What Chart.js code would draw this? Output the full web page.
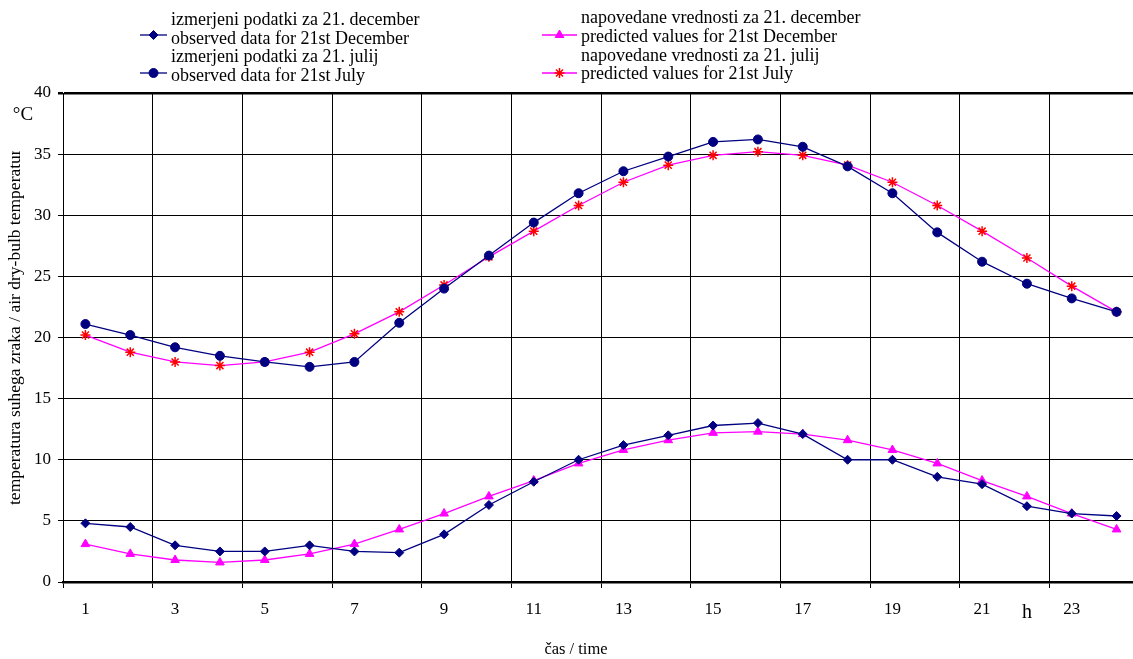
<!DOCTYPE html>
<html><head><meta charset="utf-8">
<script src="https://cdn.jsdelivr.net/npm/chart.js@4.4.1/dist/chart.umd.min.js"></script>
<style>html,body{margin:0;padding:0;overflow:hidden;background:#fff;width:1133px;height:659px}canvas{display:block}</style>
</head><body><canvas id="c" width="1160" height="659"></canvas>
<script>
const hours = [1,2,3,4,5,6,7,8,9,10,11,12,13,14,15,16,17,18,19,20,21,22,23,24];
const decObserved = [4.8,4.5,3.0,2.5,2.5,3.0,2.5,2.4,3.9,6.3,8.2,10.0,11.2,12.0,12.8,13.0,12.1,10.0,10.0,8.6,8.0,6.2,5.6,5.4];
const julObserved = [21.1,20.2,19.2,18.5,18.0,17.6,18.0,21.2,24.0,26.7,29.4,31.8,33.6,34.8,36.0,36.2,35.6,34.0,31.8,28.6,26.2,24.4,23.2,22.1];
const decPredicted = [3.1,2.3,1.8,1.6,1.8,2.3,3.1,4.3,5.6,7.0,8.3,9.7,10.8,11.6,12.2,12.3,12.1,11.6,10.8,9.7,8.3,7.0,5.6,4.3];
const julPredicted = [20.2,18.8,18.0,17.7,18.0,18.8,20.3,22.1,24.3,26.6,28.7,30.8,32.7,34.1,34.9,35.2,34.9,34.1,32.7,30.8,28.7,26.5,24.2,22.1];
const xTickLabels = [1,3,5,7,9,11,13,15,17,19,21,23];
const xGridPositions = [0.5,2.5,4.5,6.5,8.5,10.5,12.5,14.5,16.5,18.5,20.5,22.5,24.5];
const legendTexts = [
  ["izmerjeni podatki za 21. december","observed data for 21st December"],
  ["izmerjeni podatki za 21. julij","observed data for 21st July"],
  ["napovedane vrednosti za 21. december","predicted values for 21st December"],
  ["napovedane vrednosti za 21. julij","predicted values for 21st July"]
];
const yTitle = "temperatura suhega zraka / air dry-bulb temperature";
const xTitle = "čas / time";

const SERIF = '"Liberation Serif", "Times New Roman", serif';
const NAVY = '#000080', MAG = '#FF00FF', RED = '#FF0000';
const pts = arr => hours.map((h,i)=>({x:h,y:arr[i]}));

const datasets = [
  {label:legendTexts[0].join(' '), data:pts(decObserved), borderColor:NAVY, backgroundColor:NAVY, pointStyle:'rectRot', pointRadius:4.5, pointBorderWidth:1, borderWidth:1.3},
  {label:legendTexts[1].join(' '), data:pts(julObserved), borderColor:NAVY, backgroundColor:NAVY, pointStyle:'circle', pointRadius:4.5, pointBorderWidth:1, borderWidth:1.3},
  {label:legendTexts[2].join(' '), data:pts(decPredicted), borderColor:MAG, backgroundColor:MAG, pointStyle:'triangle', pointRadius:5, pointBorderWidth:1, borderWidth:1.3},
  {label:legendTexts[3].join(' '), data:pts(julPredicted), borderColor:MAG, backgroundColor:RED, pointBorderColor:RED, pointBackgroundColor:RED, pointStyle:'star', pointRadius:5, pointBorderWidth:1.5, borderWidth:1.3}
];

const legendLayout = [
  {lineX1:140, lineX2:167, textX:171, markY:35, textY:[20,39]},
  {lineX1:140, lineX2:167, textX:171, markY:73, textY:[57,76]},
  {lineX1:542, lineX2:577, textX:581, markY:35, textY:[18,37]},
  {lineX1:542, lineX2:577, textX:581, markY:73, textY:[56,74]}
];

const extras = {
  id:'extras',
  afterDraw(chart){
    const ctx = chart.ctx;
    ctx.save();
    chart.data.datasets.forEach((ds,i)=>{
      const L = legendLayout[i];
      ctx.strokeStyle = ds.borderColor; ctx.lineWidth = 1.3;
      ctx.beginPath(); ctx.moveTo(L.lineX1, L.markY); ctx.lineTo(L.lineX2, L.markY); ctx.stroke();
      ctx.fillStyle = ds.pointBackgroundColor || ds.backgroundColor;
      ctx.strokeStyle = ds.pointBorderColor || ds.borderColor;
      ctx.lineWidth = ds.pointBorderWidth;
      Chart.helpers.drawPoint(ctx, {pointStyle:ds.pointStyle, radius:ds.pointRadius, rotation:0, borderWidth:ds.pointBorderWidth}, (L.lineX1+L.lineX2)/2, L.markY);
      ctx.fillStyle = '#000';
      ctx.font = '18px ' + SERIF;
      ctx.textAlign = 'left'; ctx.textBaseline = 'middle';
      legendTexts[i].forEach((t,k)=>ctx.fillText(t, L.textX, L.textY[k]));
    });
    ctx.fillStyle = '#000';
    ctx.font = '19px ' + SERIF; ctx.textAlign='center'; ctx.textBaseline='middle';
    ctx.fillText('°C', 23, 115);
    const xs = chart.scales.x;
    ctx.font = '20px ' + SERIF;
    ctx.fillText('h', xs.getPixelForValue(22), 613);
    ctx.font = '16.5px ' + SERIF;
    ctx.fillText(xTitle, 576, 650);
    ctx.save();
    ctx.beginPath(); ctx.rect(0,151,45,400); ctx.clip();
    ctx.translate(15, 505); ctx.rotate(-Math.PI/2);
    ctx.font = '17.5px ' + SERIF; ctx.textAlign='left'; ctx.textBaseline='middle';
    ctx.fillText(yTitle, 0, 0);
    ctx.restore();
    ctx.restore();
  }
};

new Chart(document.getElementById('c'), {
  type:'line',
  data:{datasets},
  options:{
    responsive:false, animation:false, devicePixelRatio:1,
    layout:{padding:{top:93,right:21,left:0,bottom:0}},
    plugins:{legend:{display:false}, tooltip:{enabled:false}},
    elements:{line:{tension:0}},
    scales:{
      x:{type:'linear', min:0.5, max:24.5,
        afterBuildTicks(s){
          const vals = xGridPositions.concat(xTickLabels).sort((a,b)=>a-b);
          s.ticks = vals.map(v=>({value:v}));
        },
        afterFit(s){ s.height = 77; },
        ticks:{autoSkip:false, maxRotation:0, padding:11, color:'#000', font:{family:SERIF, size:17},
          callback:v=>Number.isInteger(v)?String(v):''},
        grid:{color:c=>(c.tick && c.tick.value%1!==0)?'#000':'rgba(0,0,0,0)',
              tickColor:c=>(c.tick && c.tick.value%1!==0)?'#000':'rgba(0,0,0,0)',
              lineWidth:1, tickLength:6},
        border:{color:'#000', width:2.5}
      },
      y:{min:0, max:40,
        afterFit(s){ s.width = 63; },
        ticks:{stepSize:5, padding:7, color:'#000', font:{family:SERIF, size:17}},
        grid:{color:'#000', lineWidth:c=>(c.tick && c.tick.value===40)?2.5:1, tickColor:'#000', tickLength:5},
        border:{color:'#000', width:1}
      }
    }
  },
  plugins:[extras]
});
</script></body></html>
